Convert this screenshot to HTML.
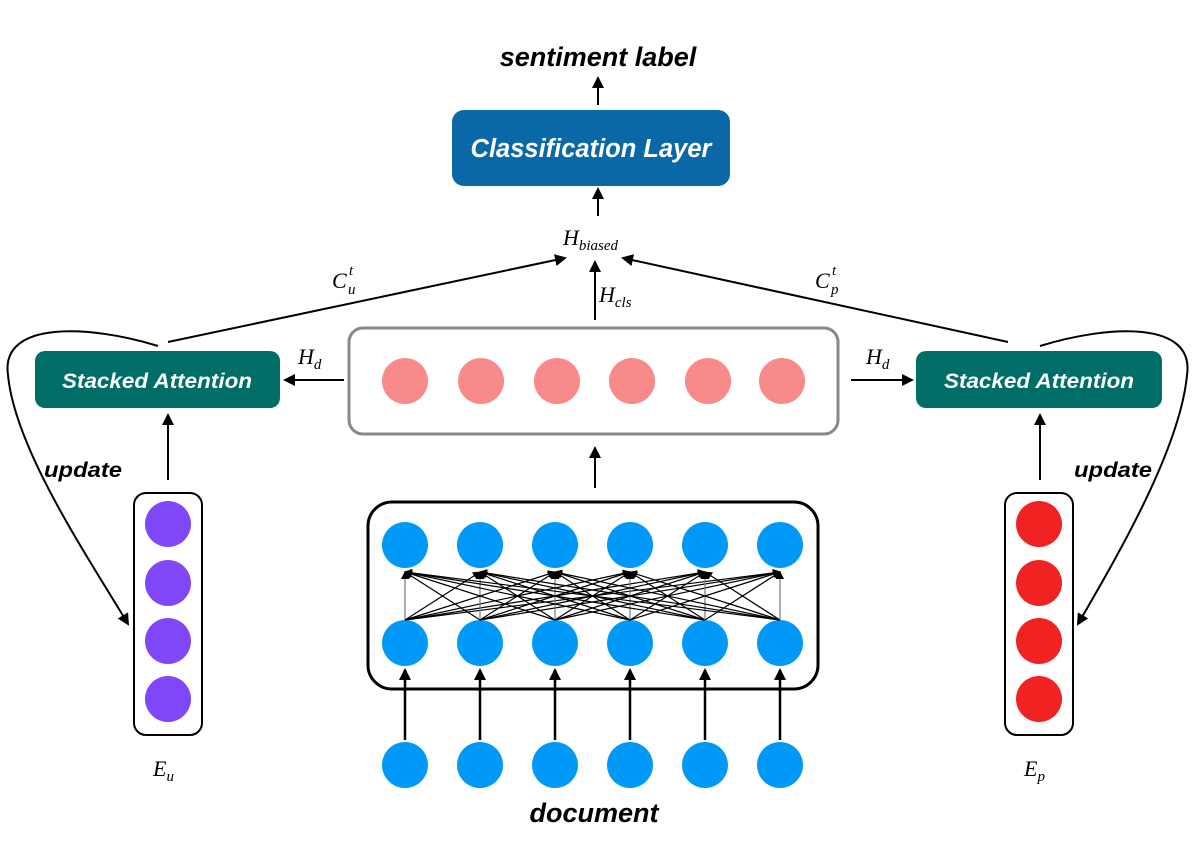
<!DOCTYPE html>
<html><head><meta charset="utf-8"><style>
html,body{margin:0;padding:0;background:#fff;}
svg{display:block;}
</style></head><body>
<svg width="1195" height="844" viewBox="0 0 1195 844" xmlns="http://www.w3.org/2000/svg" font-family="Liberation Sans, sans-serif">
<defs>
<marker id="a" markerWidth="12" markerHeight="12" refX="10" refY="6" orient="auto" markerUnits="userSpaceOnUse"><path d="M0,0 L12,6 L0,12 z" fill="#000"/></marker>
<marker id="s" markerWidth="8" markerHeight="8" refX="7" refY="4" orient="auto" markerUnits="userSpaceOnUse"><path d="M0,0 L8,4 L0,8 z" fill="#000"/></marker>
</defs>
<text x="598" y="66" text-anchor="middle" font-size="27" font-weight="bold" font-style="italic">sentiment label</text>
<line x1="598" y1="105" x2="598" y2="78" stroke="#000" stroke-width="2" marker-end="url(#a)"/>
<rect x="452" y="110" width="278" height="76" rx="12" fill="#0a67a8"/>
<text x="591" y="157" text-anchor="middle" font-size="25.5" font-weight="bold" font-style="italic" fill="#fff">Classification Layer</text>
<line x1="598" y1="216" x2="598" y2="189" stroke="#000" stroke-width="2" marker-end="url(#a)"/>
<text x="563" y="245" font-family="Liberation Serif, serif" font-style="italic" font-size="22">H<tspan font-size="15" dy="5">biased</tspan></text>
<line x1="595" y1="320" x2="595" y2="262" stroke="#000" stroke-width="2" marker-end="url(#a)"/>
<text x="599" y="302" font-family="Liberation Serif, serif" font-style="italic" font-size="22">H<tspan font-size="15" dy="5">cls</tspan></text>
<line x1="168" y1="342" x2="565" y2="258" stroke="#000" stroke-width="2" marker-end="url(#a)"/>
<line x1="1008" y1="342" x2="623" y2="258" stroke="#000" stroke-width="2" marker-end="url(#a)"/>
<g font-family="Liberation Serif, serif" font-style="italic">
<text x="332" y="288" font-size="22">C</text><text x="349" y="275" font-size="15">t</text><text x="348" y="294" font-size="15">u</text>
<text x="815" y="288" font-size="22">C</text><text x="832" y="275" font-size="15">t</text><text x="831" y="294" font-size="15">p</text>
</g>
<rect x="349" y="328" width="489" height="106" rx="14" fill="none" stroke="#888" stroke-width="3"/>
<g fill="#f88a8a"><circle cx="405" cy="381" r="23"/><circle cx="481" cy="381" r="23"/><circle cx="557" cy="381" r="23"/><circle cx="632" cy="381" r="23"/><circle cx="708" cy="381" r="23"/><circle cx="782" cy="381" r="23"/></g>
<rect x="35" y="351" width="245" height="57" rx="10" fill="#006e66"/>
<text x="157" y="388" text-anchor="middle" font-size="21" font-weight="bold" font-style="italic" fill="#fff" textLength="190" lengthAdjust="spacingAndGlyphs">Stacked Attention</text>
<rect x="916" y="351" width="246" height="57" rx="10" fill="#006e66"/>
<text x="1039" y="388" text-anchor="middle" font-size="21" font-weight="bold" font-style="italic" fill="#fff" textLength="190" lengthAdjust="spacingAndGlyphs">Stacked Attention</text>
<line x1="344" y1="380" x2="285" y2="380" stroke="#000" stroke-width="2" marker-end="url(#a)"/>
<line x1="851" y1="380" x2="912" y2="380" stroke="#000" stroke-width="2" marker-end="url(#a)"/>
<text x="298" y="364" font-family="Liberation Serif, serif" font-style="italic" font-size="22">H<tspan font-size="15" dy="5">d</tspan></text>
<text x="866" y="364" font-family="Liberation Serif, serif" font-style="italic" font-size="22">H<tspan font-size="15" dy="5">d</tspan></text>
<line x1="595" y1="488" x2="595" y2="448" stroke="#000" stroke-width="2" marker-end="url(#a)"/>
<line x1="168" y1="480" x2="168" y2="415" stroke="#000" stroke-width="2" marker-end="url(#a)"/>
<line x1="1040" y1="480" x2="1040" y2="415" stroke="#000" stroke-width="2" marker-end="url(#a)"/>
<path d="M158,346 C90,325 0,320 8,375 C15,450 90,560 128,624" fill="none" stroke="#000" stroke-width="2" marker-end="url(#a)"/>
<path d="M1040,346 C1108,325 1195,320 1187,375 C1180,450 1115,560 1078,624" fill="none" stroke="#000" stroke-width="2" marker-end="url(#a)"/>
<text x="44" y="477" font-size="21" font-weight="bold" font-style="italic" textLength="78" lengthAdjust="spacingAndGlyphs">update</text>
<text x="1074" y="477" font-size="21" font-weight="bold" font-style="italic" textLength="78" lengthAdjust="spacingAndGlyphs">update</text>
<rect x="134" y="493" width="68" height="242" rx="12" fill="none" stroke="#000" stroke-width="2"/>
<g fill="#7f47f7"><circle cx="168" cy="524" r="23"/><circle cx="168" cy="583" r="23"/><circle cx="168" cy="641" r="23"/><circle cx="168" cy="699" r="23"/></g>
<rect x="1005" y="493" width="68" height="242" rx="12" fill="none" stroke="#000" stroke-width="2"/>
<g fill="#f02222"><circle cx="1039" cy="524" r="23"/><circle cx="1039" cy="583" r="23"/><circle cx="1039" cy="641" r="23"/><circle cx="1039" cy="699" r="23"/></g>
<text x="153" y="776" font-family="Liberation Serif, serif" font-style="italic" font-size="22">E<tspan font-size="15" dy="5">u</tspan></text>
<text x="1024" y="776" font-family="Liberation Serif, serif" font-style="italic" font-size="22">E<tspan font-size="15" dy="5">p</tspan></text>
<rect x="368" y="502" width="450" height="187" rx="24" fill="none" stroke="#000" stroke-width="3"/>
<g fill="#0099f7">
<circle cx="405" cy="545" r="23"/><circle cx="480" cy="545" r="23"/><circle cx="555" cy="545" r="23"/><circle cx="630" cy="545" r="23"/><circle cx="705" cy="545" r="23"/><circle cx="780" cy="545" r="23"/>
<circle cx="405" cy="643" r="23"/><circle cx="480" cy="643" r="23"/><circle cx="555" cy="643" r="23"/><circle cx="630" cy="643" r="23"/><circle cx="705" cy="643" r="23"/><circle cx="780" cy="643" r="23"/>
<circle cx="405" cy="765" r="23"/><circle cx="480" cy="765" r="23"/><circle cx="555" cy="765" r="23"/><circle cx="630" cy="765" r="23"/><circle cx="705" cy="765" r="23"/><circle cx="780" cy="765" r="23"/>
</g>
<g stroke="#000" stroke-width="1.2" marker-end="url(#s)">
<line x1="405" y1="620" x2="405" y2="572" stroke="#777"/><line x1="405" y1="620" x2="480" y2="572"/><line x1="405" y1="620" x2="555" y2="572"/><line x1="405" y1="620" x2="630" y2="572"/><line x1="405" y1="620" x2="705" y2="572"/><line x1="405" y1="620" x2="780" y2="572"/>
<line x1="480" y1="620" x2="405" y2="572"/><line x1="480" y1="620" x2="480" y2="572" stroke="#777"/><line x1="480" y1="620" x2="555" y2="572"/><line x1="480" y1="620" x2="630" y2="572"/><line x1="480" y1="620" x2="705" y2="572"/><line x1="480" y1="620" x2="780" y2="572"/>
<line x1="555" y1="620" x2="405" y2="572"/><line x1="555" y1="620" x2="480" y2="572"/><line x1="555" y1="620" x2="555" y2="572" stroke="#777"/><line x1="555" y1="620" x2="630" y2="572"/><line x1="555" y1="620" x2="705" y2="572"/><line x1="555" y1="620" x2="780" y2="572"/>
<line x1="630" y1="620" x2="405" y2="572"/><line x1="630" y1="620" x2="480" y2="572"/><line x1="630" y1="620" x2="555" y2="572"/><line x1="630" y1="620" x2="630" y2="572" stroke="#777"/><line x1="630" y1="620" x2="705" y2="572"/><line x1="630" y1="620" x2="780" y2="572"/>
<line x1="705" y1="620" x2="405" y2="572"/><line x1="705" y1="620" x2="480" y2="572"/><line x1="705" y1="620" x2="555" y2="572"/><line x1="705" y1="620" x2="630" y2="572"/><line x1="705" y1="620" x2="705" y2="572" stroke="#777"/><line x1="705" y1="620" x2="780" y2="572"/>
<line x1="780" y1="620" x2="405" y2="572"/><line x1="780" y1="620" x2="480" y2="572"/><line x1="780" y1="620" x2="555" y2="572"/><line x1="780" y1="620" x2="630" y2="572"/><line x1="780" y1="620" x2="705" y2="572"/><line x1="780" y1="620" x2="780" y2="572" stroke="#777"/>
</g>
<g stroke="#000" stroke-width="2.5" marker-end="url(#a)">
<line x1="405" y1="740" x2="405" y2="670"/><line x1="480" y1="740" x2="480" y2="670"/><line x1="555" y1="740" x2="555" y2="670"/><line x1="630" y1="740" x2="630" y2="670"/><line x1="705" y1="740" x2="705" y2="670"/><line x1="780" y1="740" x2="780" y2="670"/>
</g>
<text x="594" y="822" text-anchor="middle" font-size="27" font-weight="bold" font-style="italic">document</text>
</svg>
</body></html>
